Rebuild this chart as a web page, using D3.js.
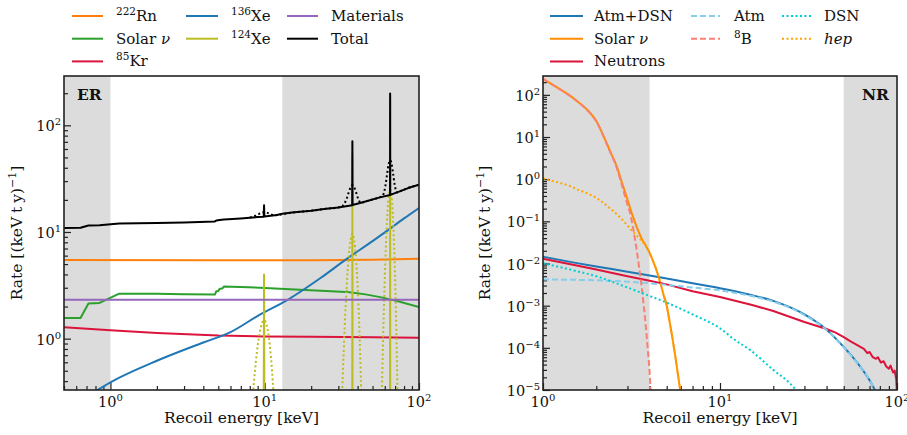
<!DOCTYPE html>
<html>
<head>
<meta charset="utf-8">
<script src="https://cdn.jsdelivr.net/npm/d3@7"></script>
<style>
  body { margin: 0; background: #fff; }
  text { font-family: "DejaVu Serif", serif; fill: #111; }
</style>
</head>
<body>
<svg id="chart" width="907" height="435"></svg>
<script>
// ---- ER panel: [energy keV, rate] ----
const rnER = [[0.5,5.45],[5,5.42],[20,5.42],[50,5.5],[100,5.6]];
const solarER = [[0.5,1.56],[0.64,1.56],[0.72,2.14],[0.85,2.16],[1.14,2.64],[2,2.63],[3,2.61],[4.75,2.59],[4.85,2.78],[5.0,2.8],[5.1,2.93],[5.3,2.95],[5.45,3.08],[9.3,3.0],[17,2.88],[25,2.8],[33.5,2.73],[34,2.78],[34.5,2.74],[45,2.6],[56,2.45],[72,2.25],[100,1.98]];
const krER = [[0.5,1.28],[1,1.2],[2,1.13],[5,1.07],[10,1.05],[20,1.04],[50,1.03],[100,1.02]];
const xe136ER = [[0.5,0.25],[0.79,0.32],[1,0.39],[2,0.62],[4,0.92],[6,1.15],[9.3,1.68],[14,2.3],[23,3.7],[34,5.6],[50,8.2],[63,10.4],[80,13.4],[100,16.8]];
const xe124ER = [[9.8,0.01],[9.9,4.0],[10.0,0.01],[36.9,0.01],[37,54],[37.1,0.01],[64.9,0.01],[65,177],[65.1,0.01]];
const xe124SmearedER = [[7.9,0.094],[8.4,0.31],[8.9,0.75],[9.4,1.25],[9.9,1.49],[10.4,1.25],[10.9,0.75],[11.4,0.31],[11.9,0.094],
  [31,0.106],[32,0.42],[33,1.3],[34,3.1],[35,5.8],[36,8.4],[37,9.6],[38,8.4],[39,5.8],[40,3.1],[41,1.3],[42,0.42],[43,0.106],
  [56,0.05],[57.5,0.33],[59,1.57],[60.5,5.3],[62,12.5],[63.5,21],[65,25],[66.5,21],[68,12.5],[69.5,5.3],[71,1.57],[72.5,0.33],[74,0.05]];
const materialsER = [[0.5,2.32],[100,2.32]];
const totalER = [[0.5,10.9],[0.64,10.95],[0.72,11.5],[0.85,11.55],[1.14,12.0],[2,12.15],[3,12.3],[4.75,12.55],[4.85,12.8],[5.1,12.95],[5.45,13.1],[7,13.4],[8,13.6],[9,13.8],[9.85,13.9],[9.9,17.8],[9.95,13.95],[12,14.4],[13,14.8],[15,15.2],[20,15.8],[25,16.5],[30,17.0],[36.9,17.8],[37,71],[37.1,17.9],[45,19.3],[55,21],[64.9,22.2],[65,199],[65.1,22.3],[75,24],[85,25.8],[100,27.8]];
const totalSmearedER = [[7.5,13.5],[8.4,13.9],[8.9,14.4],[9.4,15.0],[9.9,15.3],[10.4,15.1],[10.9,14.7],[11.4,14.3],[12,14.4],[15,15.2],[20,15.8],[25,16.5],[30,17],[32,17.6],[33,18.7],[34,20.6],[35,23.4],[36,26.1],[37,27.4],[38,26.3],[39,23.8],[40,21.2],[41,19.5],[42,18.7],[44,19.1],[50,20.2],[56,21.2],[57.5,21.6],[59,22.9],[60.5,26.8],[62,34.2],[63.5,42.9],[65,47],[66.5,43.2],[68,34.9],[69.5,27.9],[71,24.4],[72.5,23.4],[75,24],[85,25.8],[100,27.8]];

// ---- NR panel: [energy keV, rate] ----
const atmDsnNR = [[1,0.0145],[1.5,0.0105],[2,0.0085],[3,0.0064],[4,0.0052],[5,0.0044],[7,0.0034],[10,0.0026],[15,0.0018],[20,0.0013],[30,6.2e-4],[40,2.7e-4],[50,1.05e-4],[60,4.3e-5],[70,1.7e-5],[76,9e-6]];
const solarNR = [[1.0,240],[1.2,150],[1.4,100],[1.6,65],[1.8,42],[2.0,24],[2.2,10.5],[2.4,4.5],[2.6,2.1],[2.8,0.8],[3.0,0.33],[3.2,0.14],[3.4,0.07],[3.6,0.04],[3.8,0.027],[4.0,0.018],[4.2,0.011],[4.4,0.0065],[4.6,0.0035],[4.8,0.0018],[5.0,0.001],[5.2,4e-4],[5.4,1.6e-4],[5.6,6e-5],[5.8,2.2e-5],[6.0,8e-6]];
const neutronsNR = [[1,0.013],[1.5,0.0092],[2,0.0072],[3,0.005],[4,0.0039],[5,0.0032],[7,0.0022],[10,0.0016],[15,1.05e-3],[20,7.5e-4],[30,4.1e-4],[40,2.8e-4],[45,2.3e-4],[50,1.8e-4],[55,1.4e-4],[60,1.15e-4],[65,9.5e-5],[68,7.5e-5],[70,8e-5],[73,6e-5],[76,5.5e-5],[78,6e-5],[81,4.5e-5],[84,4.8e-5],[87,3.6e-5],[90,3.2e-5],[92,3.8e-5],[95,2.6e-5],[97,2.9e-5],[99,1.8e-5],[100,8e-6]];
const atmNR = [[1,0.0042],[1.5,0.0041],[2,0.004],[3,0.0037],[4,0.0034],[5,0.0031],[7,0.0027],[10,0.0023],[15,0.0017],[20,0.00125],[30,6e-4],[40,2.65e-4],[50,1.03e-4],[60,4.2e-5],[70,1.7e-5],[76,9e-6]];
const b8NR = [[1.0,239],[1.2,149],[1.4,99],[1.6,64],[1.8,41.5],[2.0,23.6],[2.2,10.2],[2.4,4.3],[2.6,1.95],[2.8,0.69],[3.0,0.25],[3.1,0.16],[3.2,0.085],[3.3,0.04],[3.4,0.018],[3.5,0.0075],[3.6,0.003],[3.7,0.0011],[3.8,3.6e-4],[3.9,1.0e-4],[4.0,2.8e-5],[4.06,9e-6]];
const dsnNR = [[1,0.0102],[1.5,0.0068],[2,0.005],[3,0.0027],[4,0.0017],[5,0.00118],[7,6.2e-4],[10,2.9e-4],[12,1.6e-4],[15,8.5e-5],[20,3e-5],[25,1.4e-5],[27.5,9e-6]];
const hepNR = [[1.0,1.05],[1.2,0.85],[1.4,0.7],[1.6,0.55],[1.8,0.45],[2.0,0.36],[2.2,0.27],[2.4,0.2],[2.6,0.15],[2.8,0.11],[3.0,0.08],[3.2,0.058],[3.4,0.045],[3.6,0.035],[3.8,0.026],[4.0,0.018],[4.2,0.011],[4.4,0.0065],[4.6,0.0035],[4.8,0.0018],[5.0,0.001],[5.2,4e-4],[5.4,1.6e-4],[5.6,6e-5],[5.8,2.2e-5],[6.0,8e-6]];

const svg = d3.select("#chart");

function supText(sel, base, exp) {
  // "10" with superscript exponent
  sel.append("tspan").text(base);
  sel.append("tspan").attr("dy", -6).attr("font-size", 10).text(exp);
}

function makePanel(id, box, xDom, yDom, yExps, xExps, bands, yLabelGap) {
  const x = d3.scaleLog().domain(xDom).range([box.x0, box.x1]);
  const y = d3.scaleLog().domain(yDom).range([box.y1, box.y0]);
  const g = svg.append("g");

  g.append("clipPath").attr("id", "clip-" + id)
    .append("rect").attr("x", box.x0).attr("y", box.y0)
    .attr("width", box.x1 - box.x0).attr("height", box.y1 - box.y0);

  bands.forEach(b => {
    g.append("rect")
      .attr("x", x(b[0])).attr("y", box.y0)
      .attr("width", x(b[1]) - x(b[0])).attr("height", box.y1 - box.y0)
      .attr("fill", "#dcdcdc");
  });

  const isMajor = v => Math.abs(Math.log10(v) - Math.round(Math.log10(v))) < 1e-9;
  const xMinor = x.ticks().filter(v => !isMajor(v));
  const yMinor = y.ticks().filter(v => !isMajor(v));
  const xMajor = xExps.map(e => Math.pow(10, e));
  const yMajor = yExps.map(e => Math.pow(10, e));

  const axes = g.append("g").attr("stroke-width", 1.2);
  [[xMajor, 7], [xMinor, 4]].forEach(([vals, len]) => {
    axes.append("g").attr("transform", `translate(0,${box.y1})`)
      .call(d3.axisBottom(x).tickValues(vals).tickSize(-len).tickFormat(""))
      .call(a => a.select(".domain").remove());
  });
  [[yMajor, 7], [yMinor, 4]].forEach(([vals, len]) => {
    axes.append("g").attr("transform", `translate(${box.x0},0)`)
      .call(d3.axisLeft(y).tickValues(vals).tickSize(-len).tickFormat(""))
      .call(a => a.select(".domain").remove());
  });
  axes.selectAll(".tick line").attr("stroke", "#222");

  xExps.forEach(e => {
    const t = g.append("text").attr("x", x(Math.pow(10, e))).attr("y", box.y1 + 17)
      .attr("text-anchor", "middle").attr("font-size", 14.5);
    supText(t, "10", String(e).replace("-", "\u2212"));
  });
  yExps.forEach(e => {
    const t = g.append("text").attr("x", box.x0 - 3).attr("y", y(Math.pow(10, e)) + 6)
      .attr("text-anchor", "end").attr("font-size", 14.5);
    supText(t, "10", String(e).replace("-", "\u2212"));
  });

  g.append("text").attr("x", (box.x0 + box.x1) / 2).attr("y", box.y1 + 33)
    .attr("text-anchor", "middle").attr("font-size", 15.5).text("Recoil energy [keV]");

  const yl = g.append("text")
    .attr("transform", `translate(${box.x0 - yLabelGap},${(box.y0 + box.y1) / 2}) rotate(-90)`)
    .attr("text-anchor", "middle").attr("font-size", 15.5);
  yl.append("tspan").text("Rate [(keV\u2005t\u2005y)");
  yl.append("tspan").attr("dy", -6).attr("font-size", 11).text("\u22121");
  yl.append("tspan").attr("dy", 6).text("]");

  const plot = g.append("g").attr("clip-path", `url(#clip-${id})`);
  return {g, plot, x, y, box};
}

function addLine(p, data, color, dash, curve, width) {
  const line = d3.line().x(d => p.x(d[0])).y(d => p.y(d[1])).curve(curve || d3.curveLinear);
  p.plot.append("path").datum(data)
    .attr("d", line).attr("fill", "none")
    .attr("stroke", color).attr("stroke-width", width || 2)
    .attr("stroke-dasharray", dash || null)
    .attr("stroke-linejoin", "round");
}

function frame(p) {
  p.g.append("rect").attr("x", p.box.x0).attr("y", p.box.y0)
    .attr("width", p.box.x1 - p.box.x0).attr("height", p.box.y1 - p.box.y0)
    .attr("fill", "none").attr("stroke", "#222").attr("stroke-width", 1.6);
}

function legend(entries, cols, y0) {
  entries.forEach(e => {
    const c = cols[e.col];
    const yy = y0 + e.row * 22.7;
    svg.append("line").attr("x1", c.l1).attr("x2", c.l2).attr("y1", yy).attr("y2", yy)
      .attr("stroke", e.color).attr("stroke-width", 2).attr("stroke-dasharray", e.dash || null);
    const t = svg.append("text").attr("x", c.t).attr("y", yy + 5).attr("font-size", 15);
    e.label(t);
  });
}

const plain = s => t => t.append("tspan").text(s);
const iso = (a, s) => t => {
  t.append("tspan").attr("dy", -6).attr("font-size", 10.5).text(a);
  t.append("tspan").attr("dy", 6).text(s);
};
const solarLabel = t => { t.append("tspan").text("Solar "); t.append("tspan").attr("font-style", "italic").text("\u03bd"); };

// ---- ER panel ----
const er = makePanel("er", {x0: 64, x1: 419, y0: 76, y1: 390}, [0.5, 100], [0.33, 290],
  [0, 1, 2], [0, 1, 2], [[0.5, 1], [13, 100]], 42);
addLine(er, rnER, "#ff7f0e");
addLine(er, solarER, "#2ca02c");
addLine(er, krER, "crimson");
addLine(er, xe136ER, "#1f77b4", null, d3.curveMonotoneX);
addLine(er, xe124ER, "#bcbd22");
addLine(er, xe124SmearedER, "#bcbd22", "2,2.5", d3.curveMonotoneX);
addLine(er, materialsER, "#9467bd");
addLine(er, totalER, "#000");
addLine(er, totalSmearedER, "#000", "2,2.5", d3.curveMonotoneX);
frame(er);
er.g.append("text").attr("x", 77).attr("y", 100).attr("font-size", 15.5)
  .attr("font-weight", "bold").text("ER");

legend([
  {col: 0, row: 0, color: "#ff7f0e", label: iso("222", "Rn")},
  {col: 0, row: 1, color: "#2ca02c", label: solarLabel},
  {col: 0, row: 2, color: "crimson", label: iso("85", "Kr")},
  {col: 1, row: 0, color: "#1f77b4", label: iso("136", "Xe")},
  {col: 1, row: 1, color: "#bcbd22", label: iso("124", "Xe")},
  {col: 2, row: 0, color: "#9467bd", label: plain("Materials")},
  {col: 2, row: 1, color: "#000", label: plain("Total")}
], [{l1: 72, l2: 103, t: 116}, {l1: 186, l2: 218, t: 231}, {l1: 287, l2: 318, t: 331}], 16);

// ---- NR panel ----
const nr = makePanel("nr", {x0: 543, x1: 897, y0: 76, y1: 390}, [1, 100], [1e-5, 280],
  [-5, -4, -3, -2, -1, 0, 1, 2], [0, 1, 2], [[1, 4], [50, 100]], 53);
const smooth = d3.curveMonotoneX;
addLine(nr, atmDsnNR, "#1f77b4", null, smooth);
addLine(nr, solarNR, "darkorange", null, smooth);
addLine(nr, neutronsNR, "crimson");
addLine(nr, atmNR, "skyblue", "6,3", smooth);
addLine(nr, b8NR, "salmon", "6,3", smooth);
addLine(nr, dsnNR, "darkturquoise", "2,2.5", smooth);
addLine(nr, hepNR, "orange", "2,2.5", smooth);
frame(nr);
nr.g.append("text").attr("x", 889).attr("y", 100).attr("font-size", 15.5)
  .attr("font-weight", "bold").attr("text-anchor", "end").text("NR");

legend([
  {col: 0, row: 0, color: "#1f77b4", label: plain("Atm+DSN")},
  {col: 0, row: 1, color: "darkorange", label: solarLabel},
  {col: 0, row: 2, color: "crimson", label: plain("Neutrons")},
  {col: 1, row: 0, color: "skyblue", dash: "6,3", label: plain("Atm")},
  {col: 1, row: 1, color: "salmon", dash: "6,3", label: iso("8", "B")},
  {col: 2, row: 0, color: "darkturquoise", dash: "2,2.5", label: plain("DSN")},
  {col: 2, row: 1, color: "orange", dash: "2,2.5", label: t => t.append("tspan").attr("font-style", "italic").text("hep")}
], [{l1: 550, l2: 583, t: 594}, {l1: 691, l2: 720, t: 734}, {l1: 782, l2: 812, t: 824}], 16);
</script>
</body>
</html>
